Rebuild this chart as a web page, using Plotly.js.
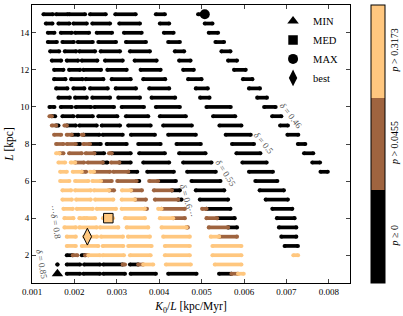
<!DOCTYPE html>
<html><head><meta charset="utf-8">
<script src="https://cdn.plot.ly/plotly-3.0.1.min.js"></script>
<style>html,body{margin:0;padding:0;background:#fff}#chart{width:403px;height:316px}</style>
</head><body><div id="chart"></div>
<script>
// Units: K0/L values below are in 1e-3 kpc/Myr; L in kpc.
const UNIT = 1e-3;
// p-value classes
const pThresholds = ['0', '0.0455', '0.3173'];
const pColors = ['#000000', '#9f643f', '#ffc77f'];
// Runs of grid points [L, K0/L start, K0/L end] for each p class
const blackRuns = [
[15,1.271,1.492],[15,1.569,1.845],[15,1.875,2.252],[15,2.369,2.739],[15,2.965,3.445],[15,3.922,4.134],[15,4.918,5.075],
[14.5,1.327,1.482],[14.5,1.624,1.882],[14.5,1.977,2.292],[14.5,2.423,2.840],[14.5,3.059,3.546],[14.5,4.016,4.235],[14.5,5.075,5.256],
[14,1.374,1.529],[14,1.680,1.939],[14,2.016,2.346],[14,2.527,2.887],[14,3.169,3.586],[14,4.111,4.339],[14,5.169,5.388],
[13.5,1.374,1.586],[13.5,1.718,1.986],[13.5,2.080,2.433],[13.5,2.565,2.981],[13.5,3.216,3.687],[13.5,4.212,4.487],[13.5,5.327,5.529],
[13,1.428,1.640],[13,1.774,2.040],[13,2.118,2.487],[13,2.621,3.075],[13,3.311,3.781],[13,4.369,4.588],[13,5.468,5.680],
[12.5,1.468,1.687],[12.5,1.821,2.087],[12.5,2.174,2.541],[12.5,2.722,3.139],[12.5,3.421,3.939],[12.5,4.470,4.739],[12.5,5.624,5.835],
[12,1.522,1.741],[12,1.875,2.134],[12,2.212,2.628],[12,2.777,3.233],[12,3.562,4.033],[12,4.565,4.816],[12,5.765,6.040],
[11.5,1.522,1.788],[11.5,1.922,2.188],[11.5,2.268,2.682],[11.5,2.880,3.327],[11.5,3.624,4.141],[11.5,4.682,4.998],[11.5,5.976,6.198],
[11,1.569,1.835],[11,1.977,2.235],[11,2.369,2.786],[11,2.974,3.452],[11,3.765,4.235],[11,4.864,5.146],[11,6.118,6.376],
[10.5,1.624,1.892],[10.5,2.016,2.292],[10.5,2.423,2.840],[10.5,3.035,3.546],[10.5,3.821,4.376],[10.5,4.965,5.186],[10.5,6.311,6.541],
[10,1.412,1.529],[10,1.680,1.939],[10,2.033,2.393],[10,2.470,2.934],[10,3.115,3.640],[10,3.922,4.487],[10,5.115,5.687],[10,6.475,6.746],
[9.5,1.468,1.546],[9.5,1.718,1.977],[9.5,2.070,2.433],[9.5,2.565,3.012],[9.5,3.216,3.741],[9.5,4.016,4.628],[9.5,5.271,5.793],[9.5,6.664,6.880],
[9,1.569,1.624],[9,1.821,2.033],[9,2.118,2.527],[9,2.645,3.075],[9,3.270,3.798],[9,4.094,4.769],[9,5.421,5.939],[9,6.852,7.035],
[8.5,1.939,2.094],[8.5,2.212,2.588],[8.5,2.668,3.139],[8.5,3.334,3.899],[8.5,4.212,4.864],[8.5,5.569,6.158],[8.5,7.024,7.280],
[8,2.033,2.134],[8,2.369,2.621],[8,2.762,3.233],[8,3.506,4.033],[8,4.409,4.981],[8,5.718,6.235],[8,7.271,7.445],
[7.5,2.470,2.699],[7.5,2.880,3.327],[7.5,3.529,4.134],[7.5,4.470,5.092],[7.5,5.821,6.386],[7.5,7.416,7.633],
[7,2.668,2.777],[7,3.059,3.327],[7,3.624,4.235],[7,4.565,5.233],[7,5.962,6.534],[7,7.611,7.793],
[6.5,3.270,3.482],[6.5,3.718,4.346],[6.5,4.659,5.334],[6.5,6.118,6.682],[6.5,7.805,7.976],
[6,3.468,3.529],[6,3.976,4.393],[6,4.762,5.445],[6,6.268,6.786],
[5.5,4.299,4.487],[5.5,4.864,5.534],[5.5,6.369,6.941],
[5,4.447,4.527],[5,4.958,5.624],[5,6.511,7.035],
[4.5,5.115,5.680],[4.5,6.668,7.139],
[4,5.365,5.781],[4,6.776,7.193],
[3.5,5.624,5.835],[3.5,6.824,7.233],
[3,6.880,7.233],
[2.5,6.958,7.271],
[2,1.821,1.962],[2,2.174,2.252],
[1.5,1.600,1.600],[1.5,1.821,2.134],[1.5,2.228,2.605],[1.5,2.682,3.139],[1.5,3.311,3.506],
[1,1.600,1.600],[1,1.821,2.134],[1,2.212,2.605],[1,2.682,3.193],[1,3.327,3.922],[1,4.212,4.880],[1,5.412,5.704]
];
const brownRuns = [
[9.5,1.412,1.468],
[9,1.468,1.569],[9,1.765,1.821],
[8.5,1.522,1.687],[8.5,1.821,1.939],[8.5,2.174,2.212],
[8,1.569,1.741],[8,1.821,2.033],[8,2.212,2.369],
[7.5,1.647,1.741],[7.5,1.875,2.174],[7.5,2.268,2.470],[7.5,2.816,2.880],
[7,2.016,2.228],[7,2.315,2.668],[7,2.864,3.059],
[6.5,2.174,2.275],[6.5,2.463,2.840],[6.5,2.918,3.270],
[6,2.628,2.880],[6,3.012,3.468],[6,3.765,3.976],
[5.5,2.816,2.934],[5.5,3.334,3.593],[5.5,3.875,4.299],
[5,3.428,3.687],[5,3.899,4.447],
[4.5,3.663,3.711],[4.5,4.056,4.605],[4.5,5.012,5.115],
[4,4.329,4.605],[4,5.115,5.365],
[3.5,4.645,4.675],[3.5,5.169,5.624],
[3,5.412,5.835],
[2,1.962,2.070],[2,2.252,2.329],
[1.5,3.139,3.193],[1.5,3.506,3.624],
[1,5.704,5.859]
];
const orangeRuns = [
[7.5,1.569,1.647],
[7,1.624,1.781],[7,1.915,2.016],
[6.5,1.664,1.821],[6.5,1.962,2.174],[6.5,2.369,2.463],
[6,1.664,1.882],[6,2.016,2.329],[6,2.423,2.628],
[5.5,1.718,1.922],[5.5,2.016,2.386],[5.5,2.463,2.816],[5.5,3.122,3.334],
[5,1.718,1.939],[5,2.040,2.386],[5,2.487,2.918],[5,3.115,3.428],
[4.5,1.741,1.962],[4.5,2.056,2.433],[4.5,2.527,2.981],[4.5,3.115,3.663],[4.5,3.976,4.056],
[4,1.765,1.977],[4,2.118,2.240],[4,2.287,2.487],[4,2.675,2.910],[4,3.193,3.663],[4,4.016,4.329],
[3.5,1.765,2.033],[3.5,2.118,2.527],[3.5,2.605,3.035],[3.5,3.233,3.741],[3.5,4.056,4.645],
[3,1.821,2.033],[3,2.228,2.534],[3,2.628,3.146],[3,3.264,3.781],[3,4.094,4.722],[3,5.216,5.412],
[2.5,1.821,2.033],[2.5,2.174,2.565],[2.5,2.668,3.153],[2.5,3.270,3.821],[2.5,4.134,4.722],[2.5,5.256,5.939],
[2,2.329,2.605],[2,2.668,3.169],[2,3.311,3.798],[2,4.134,4.722],[2,5.256,5.939],[2,7.164,7.275],
[1.5,3.624,3.859],[1.5,4.158,4.746],[1.5,5.311,5.939],
[1,5.859,5.993]
];
// Special points
const extremeNames = ['MIN', 'MED', 'MAX', 'best'];
const extremeX = [1.600, 2.800, 5.075, 2.306];
const extremeL = [1, 4, 15, 3];
const extremeClass = [0, 2, 0, 2];
// contour labels
const deltaValues = ['0.46', '0.5', '0.55', '0.6···', '0.8', '0.85'];

const FONT = '"Liberation Serif", "DejaVu Serif", serif';
const cscale = [[0, pColors[0]], [1/3, pColors[0]], [1/3, pColors[1]], [2/3, pColors[1]], [2/3, pColors[2]], [1, pColors[2]]];

function runTrace(runs, cls, withBar) {
  const x = [], y = [], c = [];
  runs.forEach(r => { x.push(r[1] * UNIT, r[2] * UNIT, null); y.push(r[0], r[0], null); c.push(cls + 0.5, cls + 0.5, cls + 0.5); });
  const t = {
    type: 'scatter', mode: 'lines+markers', x: x, y: y, showlegend: false, hoverinfo: 'skip',
    line: {color: pColors[cls], width: 3.7},
    marker: {size: 4.1, color: c, colorscale: cscale, cmin: 0, cmax: 3, showscale: !!withBar}
  };
  if (withBar) {
    t.marker.colorbar = {
      x: 1.065, xanchor: 'left', xpad: 0, y: 0.5, yanchor: 'middle', ypad: 0,
      len: 1, lenmode: 'fraction', thickness: 14, thicknessmode: 'pixels',
      outlinewidth: 1, outlinecolor: '#000',
      tickmode: 'array', tickvals: [0.5, 1.5, 2.5],
      ticktext: pThresholds.map((v, i) => '<i>p</i> ' + (i === 0 ? '≥' : '>') + ' ' + v),
      tickangle: -90, ticks: '', tickfont: {family: FONT, size: 10, color: '#000'}
    };
  }
  return t;
}

const traces = [runTrace(blackRuns, 0), runTrace(brownRuns, 1), runTrace(orangeRuns, 2, true)];

const symbols = ['triangle-up', 'square', 'circle', 'diamond-tall'];
const sizes = [10, 9.5, 10, 12];
extremeNames.forEach((n, i) => {
  traces.push({type: 'scatter', mode: 'markers', x: [extremeX[i] * UNIT], y: [extremeL[i]], showlegend: false, hoverinfo: 'skip',
    marker: {symbol: symbols[i], size: sizes[i], color: pColors[extremeClass[i]], line: {color: '#000', width: extremeClass[i] ? 1 : 0}}});
});
extremeNames.forEach((n, i) => {
  traces.push({type: 'scatter', mode: 'markers', x: [null], y: [null], name: n, showlegend: true,
    marker: {symbol: symbols[i], size: sizes[i], color: '#000'}});
});

const lblPos = [[7.115, 9.52, 52], [6.464, 8.06, 50], [5.569, 6.45, 57], [4.664, 4.92, 74], [1.546, 3.79, 80], [1.228, 1.53, 80]];
const annotations = lblPos.map((p, i) => ({
  x: p[0] * UNIT, y: p[1], xref: 'x', yref: 'y', showarrow: false, textangle: p[2],
  text: (i === 4 ? '···' : '') + '<i>δ</i> = ' + deltaValues[i],
  font: {family: FONT, size: 9, color: '#555'}
}));

const layout = {
  width: 403, height: 316, margin: {l: 32, r: 53, t: 5, b: 33},
  paper_bgcolor: '#fff', plot_bgcolor: '#fff', font: {family: FONT, size: 9, color: '#000'},
  xaxis: {range: [0.001, 0.0085], tick0: 0.001, dtick: 0.001, tickformat: '.3f', ticks: 'inside', ticklen: 4,
    mirror: 'ticks', showline: true, linecolor: '#000', linewidth: 1, showgrid: false, zeroline: false,
    tickfont: {family: FONT, size: 9},
    title: {text: '<i>K</i><sub>0</sub>/<i>L</i> [kpc/Myr]', font: {family: FONT, size: 11.5}, standoff: 6}},
  yaxis: {range: [0.5, 15.5], tick0: 2, dtick: 2, ticks: 'inside', ticklen: 4,
    mirror: 'ticks', showline: true, linecolor: '#000', linewidth: 1, showgrid: false, zeroline: false,
    tickfont: {family: FONT, size: 9},
    title: {text: '<i>L</i> [kpc]', font: {family: FONT, size: 11.5}, standoff: 4}},
  legend: {x: 0.758, y: 0.995, xanchor: 'left', yanchor: 'top', bgcolor: 'rgba(0,0,0,0)',
    font: {family: FONT, size: 10.5}, itemsizing: 'trace', tracegroupgap: 0},
  annotations: annotations,
  showlegend: true
};

Plotly.newPlot('chart', traces, layout, {displayModeBar: false, staticPlot: true});
</script></body></html>
